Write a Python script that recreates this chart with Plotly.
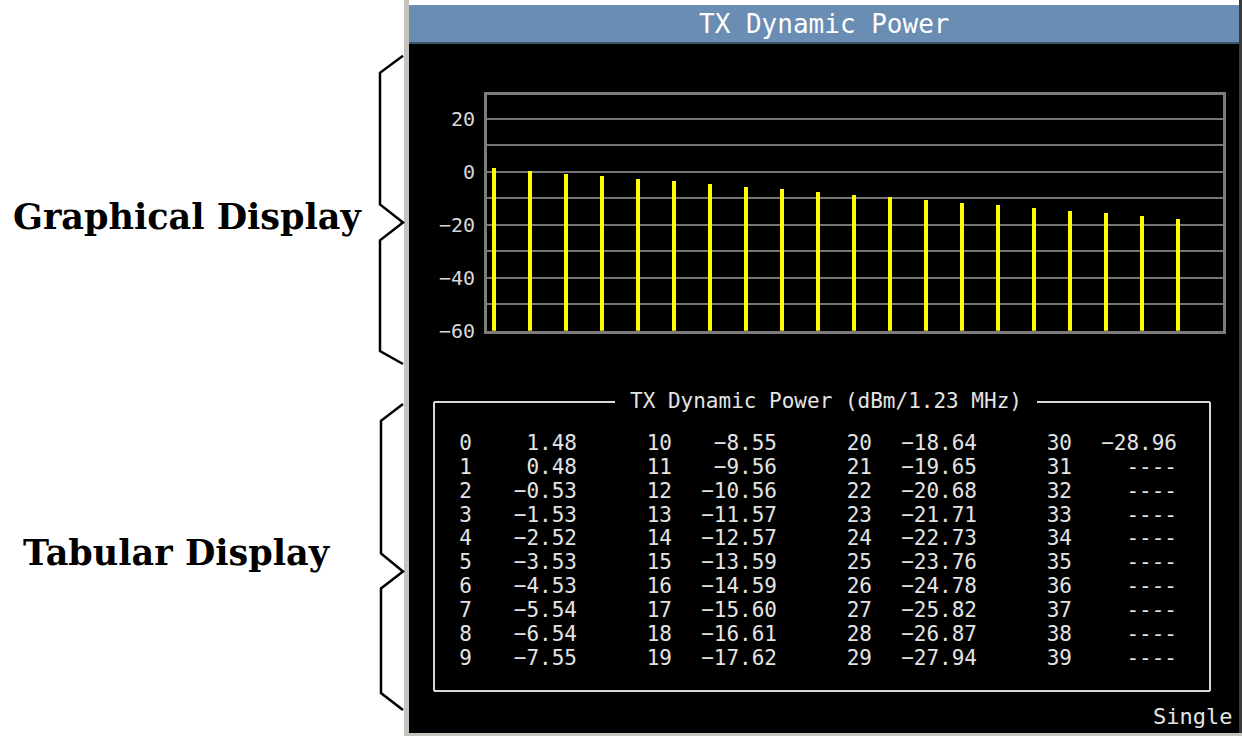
import plotly.graph_objects as go

W, H = 1242, 738          # reference frame (pixels)
LAYOUT_H = 748            # layout height that fills the photographed frame

# ---------------- data ----------------
steps = list(range(40))
power = [1.48, 0.48, -0.53, -1.53, -2.52, -3.53, -4.53, -5.54, -6.54, -7.55,
         -8.55, -9.56, -10.56, -11.57, -12.57, -13.59, -14.59, -15.60, -16.61, -17.62,
         -18.64, -19.65, -20.68, -21.71, -22.73, -23.76, -24.78, -25.82, -26.87, -27.94,
         -28.96]
graph_steps = steps[:20]
graph_power = power[:20]
y_tick_vals = [20, 0, -20, -40, -60]
y_floor = -60
y_top = 29.1
panel_title = "TX Dynamic Power"
table_title = "TX Dynamic Power (dBm/1.23 MHz)"
mode_label = "Single"
side_labels = ["Graphical Display", "Tabular Display"]


def px(x):
    return x / W


def py(y):
    return 1 - y / H


MONO = "DejaVu Sans Mono"
TXT = "#e4e4e4"

fig = go.Figure()

# bars (vertical yellow lines rising from the floor)
fig.add_trace(go.Bar(
    x=graph_steps,
    y=[v - y_floor for v in graph_power],
    base=y_floor,
    width=0.11,
    marker=dict(color="#ffff00", line=dict(width=0)),
    xaxis="x", yaxis="y", showlegend=False,
))

# table text
def fmt(v):
    s = f"{v:.2f}"
    return s.replace("-", "\u2212")

idx_x, idx_y, idx_t = [], [], []
val_x, val_y, val_t = [], [], []
for s in steps:
    c, r = s // 10, s % 10
    idx_x.append(c)
    idx_y.append(r)
    idx_t.append(str(s))
    val_x.append(c + 0.525)
    val_y.append(r)
    val_t.append(fmt(power[s]) if s < len(power) else "----")

for xs, ys, ts in ((idx_x, idx_y, idx_t), (val_x, val_y, val_t)):
    fig.add_trace(go.Scatter(
        x=xs, y=ys, text=ts, mode="text", textposition="middle left",
        textfont=dict(family=MONO, size=21, color=TXT),
        xaxis="x2", yaxis="y2", showlegend=False, hoverinfo="skip",
    ))

shapes = []
# panel frame / background
shapes.append(dict(type="rect", xref="paper", yref="paper", x0=px(404), x1=px(409), y0=py(738), y1=py(0),
                   fillcolor="#c6c2be", line=dict(width=0), layer="below"))
shapes.append(dict(type="rect", xref="paper", yref="paper", x0=px(404), x1=px(1242), y0=py(738), y1=py(735),
                   fillcolor="#c6c2be", line=dict(width=0), layer="below"))
shapes.append(dict(type="rect", xref="paper", yref="paper", x0=px(1239), x1=px(1242), y0=py(735), y1=py(0),
                   fillcolor="#3a3a3a", line=dict(width=0), layer="below"))
shapes.append(dict(type="rect", xref="paper", yref="paper", x0=px(409), x1=px(1239), y0=py(735), y1=py(43),
                   fillcolor="#000000", line=dict(width=0), layer="below"))
shapes.append(dict(type="rect", xref="paper", yref="paper", x0=px(409), x1=px(1239), y0=py(43), y1=py(5),
                   fillcolor="#6a8db3", line=dict(width=0), layer="below"))
shapes.append(dict(type="rect", xref="paper", yref="paper", x0=px(409), x1=px(1239), y0=py(44), y1=py(42),
                   fillcolor="#3d5670", line=dict(width=0), layer="below"))

# table box with gap for title
box_col = "#d8d8d8"
for (x0, y0, x1, y1) in [(434, 403, 615, 403), (1037, 403, 1210, 403),
                         (434, 403, 434, 693), (1210, 403, 1210, 693), (434, 693, 1210, 693)]:
    shapes.append(dict(type="line", xref="paper", yref="paper", x0=px(x0), y0=py(y0), x1=px(x1), y1=py(y1),
                       line=dict(color=box_col, width=2)))

# braces
def brace(pts):
    d = "M " + " L ".join(f"{px(a):.5f},{py(b):.5f}" for a, b in pts)
    return dict(type="path", xref="paper", yref="paper", path=d, line=dict(color="#000000", width=2.5))

shapes.append(brace([(403, 56), (380, 73), (380, 205), (403, 223), (380, 241), (380, 352), (403, 365)]))
shapes.append(brace([(403, 405), (381, 422), (381, 555), (403, 573), (381, 590), (381, 695), (403, 712)]))

SERIF = "Century Schoolbook, DejaVu Serif"
annotations = [
    dict(text=panel_title, x=px(824), y=py(24), xref="paper", yref="paper", showarrow=False,
         font=dict(family=MONO, size=26, color="#ffffff"), xanchor="center", yanchor="middle"),
    dict(text=table_title, x=px(826), y=py(402), xref="paper", yref="paper", showarrow=False,
         font=dict(family=MONO, size=21, color=TXT), xanchor="center", yanchor="middle"),
    dict(text=mode_label, x=px(1234), y=py(718), xref="paper", yref="paper", showarrow=False,
         font=dict(family=MONO, size=22, color=TXT), xanchor="right", yanchor="middle"),
    dict(text="<b>" + side_labels[0] + "</b>", x=px(11), y=py(217), xref="paper", yref="paper", showarrow=False,
         font=dict(family=SERIF, size=35, color="#000000"), xanchor="left", yanchor="middle"),
    dict(text="<b>" + side_labels[1] + "</b>", x=px(21), y=py(554), xref="paper", yref="paper", showarrow=False,
         font=dict(family=SERIF, size=35, color="#000000"), xanchor="left", yanchor="middle"),
]

fig.update_layout(
    width=W, height=LAYOUT_H, autosize=False,
    margin=dict(l=0, r=0, t=0, b=0),
    paper_bgcolor="#ffffff",
    plot_bgcolor="#000000",
    shapes=shapes,
    annotations=annotations,
    bargap=0,
    xaxis=dict(domain=[px(487), px(1223)], range=[-0.2, 20.25], showgrid=False, zeroline=False,
               showticklabels=False, ticks="", showline=True, mirror=True, linecolor="#7c7c7c", linewidth=3),
    yaxis=dict(domain=[py(331.7), py(95)], range=[y_floor, y_top], tickmode="array", tickvals=y_tick_vals,
               showgrid=True, gridcolor="#747474", gridwidth=2, zeroline=False,
               minor=dict(dtick=10, tick0=0, showgrid=True, gridcolor="#747474", gridwidth=2),
               showline=True, mirror=True, linecolor="#7c7c7c", linewidth=3,
               ticks="", ticklabelstandoff=5,
               tickfont=dict(family=MONO, size=20, color="#d8d8d8")),
    xaxis2=dict(domain=[px(434), px(1210)], range=[-0.19, 3.69], visible=False, anchor="y2"),
    yaxis2=dict(domain=[py(692.7), py(402.7)], range=[10.32, -1.81], visible=False, anchor="x2"),
)

fig.write_html(
    "out.html",
    config={"displayModeBar": False, "responsive": False},
    post_script=("document.documentElement.style.margin='0';document.documentElement.style.padding='0';"
                 "document.documentElement.style.overflow='hidden';"
                 "document.body.style.margin='0';document.body.style.padding='0';"
                 "document.body.style.overflow='hidden';"),
)
